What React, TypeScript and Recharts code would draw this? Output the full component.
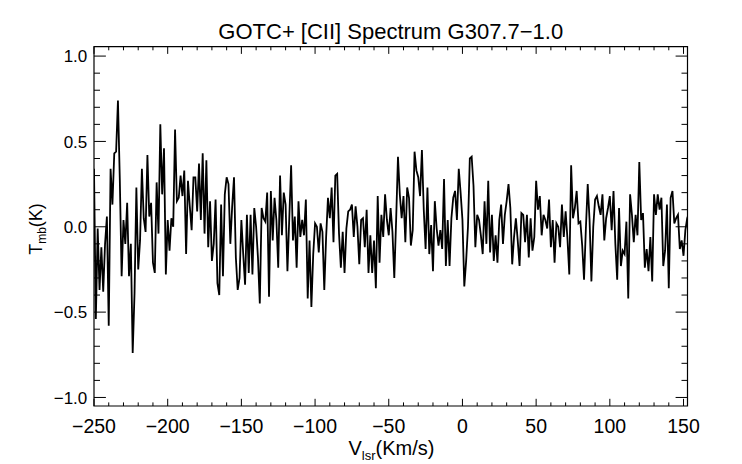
import { LineChart, Line, XAxis, YAxis, ReferenceArea } from 'recharts';

// [CII] spectrum, T_mb (K) per channel in six stretches of ~68 km/s
const V_START = -250;
const V_STEP = 1.25;

const SEG_1 = [
  0.34, -0.54, -0.01, -0.37, -0.12, -0.38, -0.10, 0.06, -0.58, 0.34,
  0.13, 0.43, 0.44, 0.74, 0.28, -0.29, 0.04, -0.10, 0.14, -0.29,
  -0.10, -0.74, -0.39, 0.23, -0.25, -0.08, 0.34, 0.05, -0.03, 0.42,
  0.06, 0.14, -0.21, -0.27, 0.26, -0.04, 0.60, 0.19, 0.46, -0.28,
  0.04, -0.14, 0.05, 0.00, 0.57, 0.15, 0.17, 0.30, 0.18, 0.33,
  -0.16, 0.27, 0.12, -0.02,
];
const SEG_2 = [
  0.29, 0.29, 0.09, 0.37, 0.04, 0.43, -0.04, 0.39, -0.12, 0.15,
  -0.20, -0.10, 0.16, -0.33, -0.40, 0.13, -0.29, 0.19, 0.29, 0.25,
  -0.10, 0.12, 0.29, -0.18, -0.37, -0.30, 0.04, -0.16, -0.34, 0.07,
  -0.27, 0.07, -0.28, 0.11, 0.00, -0.18, -0.45, 0.11, 0.05, 0.03,
  0.20, -0.41, 0.21, -0.08, 0.17, 0.04, -0.24, 0.30, -0.05, 0.20,
  0.13, -0.26, 0.05, 0.36,
];
const SEG_3 = [
  -0.08, 0.06, -0.24, 0.15, -0.06, 0.04, -0.05, 0.16, -0.42, -0.08,
  -0.47, -0.16, 0.02, 0.00, -0.15, 0.02, -0.03, -0.37, -0.06, 0.17,
  0.05, 0.23, -0.09, 0.30, 0.31, -0.04, -0.24, -0.03, -0.27, -0.01,
  0.09, 0.10, 0.13, -0.06, 0.12, 0.00, -0.22, 0.04, 0.05, -0.12,
  0.10, -0.27, -0.05, -0.27, -0.08, -0.36, 0.18, -0.21, 0.07, -0.06,
  0.19, 0.04, -0.05, 0.11,
];
const SEG_4 = [
  -0.03, -0.30, 0.04, 0.41, 0.19, 0.05, 0.18, -0.09, 0.23, 0.17,
  -0.11, -0.02, 0.44, 0.33, 0.29, 0.18, 0.45, 0.10, -0.13, 0.23,
  -0.16, 0.01, -0.26, 0.15, -0.01, -0.11, -0.02, -0.13, 0.28, -0.23,
  0.04, -0.23, 0.05, 0.17, 0.21, 0.04, 0.34, 0.20, 0.04, -0.35,
  -0.20, 0.00, 0.40, 0.41, 0.24, -0.12, 0.07, 0.04, -0.05, -0.16,
  0.15, -0.10,
];
const SEG_5 = [
  0.27, -0.15, 0.07, -0.20, -0.05, -0.21, 0.04, 0.13, -0.10, 0.07,
  0.15, 0.25, 0.11, -0.22, -0.06, 0.05, -0.08, -0.23, 0.08, 0.07,
  -0.09, 0.07, -0.18, 0.05, -0.14, -0.06, 0.27, 0.10, 0.18, -0.05,
  0.07, 0.04, -0.01, 0.16, -0.12, 0.04, -0.21, 0.02, 0.00, -0.12,
  0.13, -0.06, 0.09, -0.07, -0.28, 0.36, 0.05, 0.11, 0.21, 0.02,
  0.03, -0.11, -0.31, -0.01, 0.25, 0.04, -0.32,
];
const SEG_6 = [
  0.00, 0.16, 0.18, 0.12, 0.07, 0.19, -0.08, 0.05, 0.11, 0.18,
  -0.02, 0.21, -0.10, -0.31, 0.11, -0.23, -0.14, -0.16, 0.03, -0.42,
  0.19, 0.07, -0.09, 0.07, -0.05, 0.38, 0.04, 0.08, -0.24, -0.13,
  -0.26, -0.06, -0.32, 0.19, 0.07, 0.19, 0.10, 0.17, -0.23, -0.14,
  0.13, -0.36, 0.17, 0.21, 0.02, 0.05, 0.07, -0.13, -0.08, -0.17,
  -0.02, 0.05, 0.08,
];

const X_MAJOR = [-250, -200, -150, -100, -50, 0, 50, 100, 150];
const Y_MAJOR = [-1.0, -0.5, 0.0, 0.5, 1.0];
const X_MIN = -250;
const X_MAX = 152.7;
const Y_MIN = -1.05;
const Y_MAX = 1.055;

const TMB = [...SEG_1, ...SEG_2, ...SEG_3, ...SEG_4, ...SEG_5, ...SEG_6];
const data = TMB.map((t, i) => ({ v: V_START + i * V_STEP, t }));

// minor ticks every 10 km/s and 0.1 K
const xTicks: number[] = [];
for (let k = -25; k <= 15; k++) xTicks.push(k * 10);
const yTicks: number[] = [];
for (let k = -10; k <= 10; k++) yTicks.push(k / 10);

const W = 742;
const H = 464;
const LEFT = 94;
const RIGHT = 687.5;
const TOP = 46.7;
const BOTTOM = 406;
const PLOT_W = RIGHT - LEFT;
const PLOT_H = BOTTOM - TOP;
const FONT = '"Liberation Sans", Arial, Helvetica, sans-serif';

const minus = (s: string) => s.replace('-', '\u2212');
const isMajor = (v: number, list: number[]) => list.some(m => Math.abs(m - v) < 1e-6);

function XTick(props: any) {
  const { x, y, payload } = props;
  const major = isMajor(payload.value, X_MAJOR);
  const len = major ? 7.2 : 3.6;
  return (
    <g>
      <line x1={x} y1={y} x2={x} y2={y - len} stroke="#000" strokeWidth={1} />
      <line x1={x} y1={y - PLOT_H} x2={x} y2={y - PLOT_H + len} stroke="#000" strokeWidth={1} />
      {major && (
        <text x={x} y={y + 27.3} textAnchor="middle" fontSize={19.5} fontFamily={FONT} fill="#000">
          {minus(String(payload.value))}
        </text>
      )}
    </g>
  );
}

function YTick(props: any) {
  const { x, y, payload } = props;
  const major = isMajor(payload.value, Y_MAJOR);
  const len = major ? 11.9 : 6;
  return (
    <g>
      <line x1={x} y1={y} x2={x + len} y2={y} stroke="#000" strokeWidth={1} />
      <line x1={x + PLOT_W} y1={y} x2={x + PLOT_W - len} y2={y} stroke="#000" strokeWidth={1} />
      {major && (
        <text x={x - 6.7} y={y + 6.2} textAnchor="end" fontSize={17} fontFamily={FONT} fill="#000">
          {minus(payload.value.toFixed(1))}
        </text>
      )}
    </g>
  );
}

export default function App() {
  return (
    <div style={{ position: 'absolute', left: 0, top: 0, width: W, height: H, background: '#fff' }}>
      <LineChart
        width={W}
        height={H}
        data={data}
        margin={{ top: TOP, right: W - RIGHT, bottom: H - BOTTOM - 30, left: LEFT - 40 }}
      >
        <XAxis
          dataKey="v"
          type="number"
          domain={[X_MIN, X_MAX]}
          allowDataOverflow
          ticks={xTicks}
          interval={0}
          tickSize={0}
          tickMargin={0}
          axisLine={false}
          tickLine={false}
          height={30}
          tick={(p: any) => <XTick {...p} />}
        />
        <YAxis
          type="number"
          domain={[Y_MIN, Y_MAX]}
          allowDataOverflow
          ticks={yTicks}
          interval={0}
          tickSize={0}
          tickMargin={0}
          axisLine={false}
          tickLine={false}
          width={40}
          tick={(p: any) => <YTick {...p} />}
        />
        <Line
          dataKey="t"
          type="linear"
          stroke="#000"
          strokeWidth={1.8}
          dot={false}
          activeDot={false}
          isAnimationActive={false}
        />
        <ReferenceArea x1={X_MIN} x2={X_MAX} y1={Y_MIN} y2={Y_MAX} fill="none" stroke="#000" strokeWidth={1.2} />
      </LineChart>
      <svg
        width={W}
        height={H}
        style={{ position: 'absolute', left: 0, top: 0, pointerEvents: 'none' }}
        fontFamily={FONT}
      >
        <text x={(LEFT + RIGHT) / 2} y={39.3} textAnchor="middle" fontSize={22} fill="#000">
          GOTC+ [CII] Spectrum G307.7{'\u2212'}1.0
        </text>
        <text x={391.5} y={455} textAnchor="middle" fontSize={20} fill="#000">
          V<tspan fontSize={13} dy={5}>lsr</tspan>
          <tspan dy={-5}>(Km/s)</tspan>
        </text>
        <text transform="translate(42,229) rotate(-90)" textAnchor="middle" fontSize={18} fill="#000">
          T<tspan fontSize={12} dy={4}>mb</tspan>
          <tspan dy={-4}>(K)</tspan>
        </text>
      </svg>
    </div>
  );
}
